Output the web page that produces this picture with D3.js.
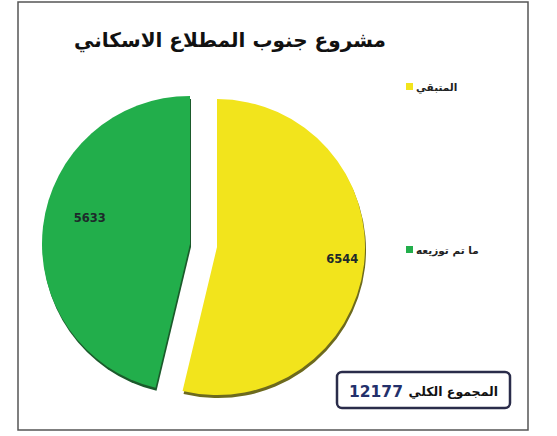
<!DOCTYPE html>
<html>
<head>
<meta charset="utf-8">
<script src="https://cdn.jsdelivr.net/npm/d3@7"></script>
<style>
  body { margin: 0; background: #fff; }
  svg { display: block; font-family: "DejaVu Sans", sans-serif; }
</style>
</head>
<body>
<script>
const title = "مشروع جنوب المطلاع الاسكاني";
const categories = ["المتبقي", "ما تم توزيعه"];
const values = [6544, 5633];
const colors = ["#f2e41c", "#22ae4b"];
const shades = ["#6d6a1e", "#1b5a2b"];
const totalLabel = "المجموع الكلي";

const W = 557, H = 436;
const svg = d3.select("body").append("svg")
  .attr("width", W).attr("height", H);

// outer frame
svg.append("rect")
  .attr("x", 18).attr("y", 2).attr("width", 510).attr("height", 428)
  .attr("fill", "#fff").attr("stroke", "#555").attr("stroke-width", 1.5);

svg.append("text")
  .attr("x", 230).attr("y", 47)
  .attr("text-anchor", "middle")
  .attr("direction", "rtl")
  .style("font-size", "20px").style("font-weight", "bold")
  .attr("fill", "#111")
  .text(title);

const r = 148, cx = 203.5, cy = 245.5, explode = 13.6;

const pie = d3.pie().sort(null).startAngle(0)(values);
const arc = d3.arc().innerRadius(0).outerRadius(r);

const slices = svg.append("g").selectAll("g")
  .data(pie)
  .join("g")
    .attr("transform", d => {
      const a = (d.startAngle + d.endAngle) / 2;
      return `translate(${cx + Math.sin(a) * explode},${cy - Math.cos(a) * explode})`;
    });

// darker copy underneath for the thin 3d edge
slices.append("path")
  .attr("d", arc)
  .attr("transform", "translate(1,3)")
  .attr("fill", (d, i) => shades[i]);

slices.append("path")
  .attr("d", arc)
  .attr("fill", (d, i) => colors[i]);

slices.append("text")
  .attr("transform", (d, i) => {
    const a = (d.startAngle + d.endAngle) / 2 + (i == 1 ? 0.14 : -0.02);
    const lr = r * (i == 1 ? 0.7 : 0.85);
    return `translate(${Math.sin(a) * lr},${-Math.cos(a) * lr})`;
  })
  .attr("text-anchor", "middle")
  .attr("dy", "0.35em")
  .style("font-size", "11.5px").style("font-weight", "bold")
  .attr("fill", "#1d2a2a")
  .text(d => d.data);

// legend
const legendY = d3.scalePoint().domain(categories).range([87, 250]);
const lg = svg.append("g").selectAll("g")
  .data(categories)
  .join("g")
    .attr("transform", d => `translate(406,${legendY(d)})`);

lg.append("rect")
  .attr("x", 0).attr("y", -4).attr("width", 7).attr("height", 7)
  .attr("fill", (d, i) => colors[i]);

lg.append("text")
  .attr("x", 10).attr("dy", "0.35em")
  .attr("text-anchor", "end")
  .attr("direction", "rtl")
  .style("font-size", "10.5px").style("font-weight", "bold")
  .attr("fill", "#222")
  .text(d => d);

// total box
const total = d3.sum(values);
svg.append("rect")
  .attr("x", 337).attr("y", 372).attr("width", 173).attr("height", 36)
  .attr("rx", 5)
  .attr("fill", "#fff").attr("stroke", "#2a2c4a").attr("stroke-width", 2.5);

svg.append("text")
  .attr("x", 349).attr("y", 397)
  .style("font-size", "15.5px").style("font-weight", "bold")
  .attr("fill", "#23306b")
  .text(total);

svg.append("text")
  .attr("x", 498).attr("y", 396)
  .attr("text-anchor", "start")
  .attr("direction", "rtl")
  .style("font-size", "12.5px").style("font-weight", "bold")
  .attr("fill", "#111")
  .text(totalLabel);
</script>
</body>
</html>
